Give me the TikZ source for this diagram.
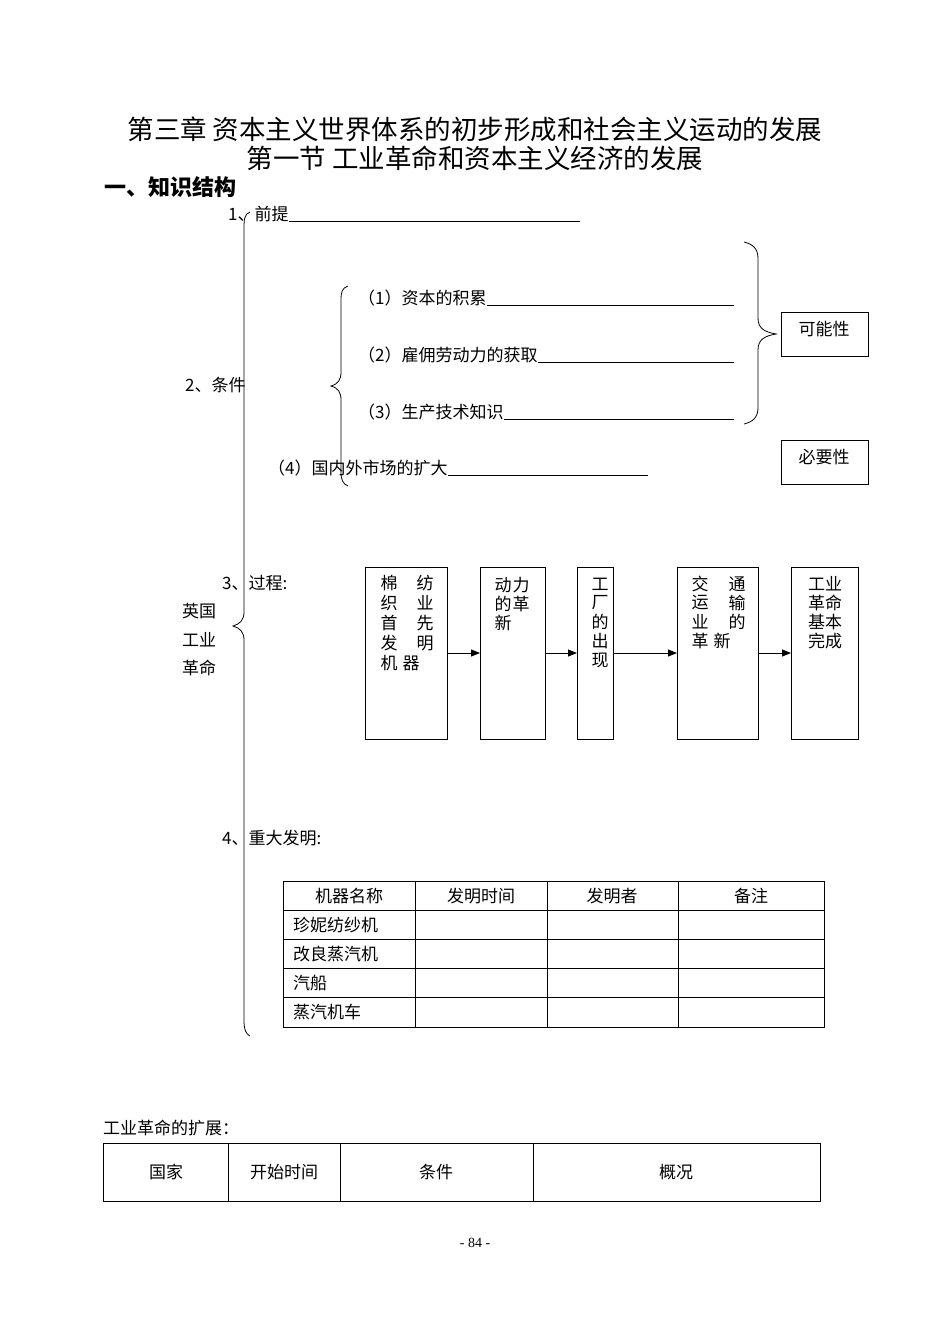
\documentclass[tikz,border=0pt]{standalone}
\usepackage{fontspec}
\setmainfont{Liberation Serif}
\newfontfamily\cjk{Noto Sans CJK SC}
\usetikzlibrary{arrows.meta,decorations.pathreplacing}
\begin{document}
\begin{tikzpicture}[x=1pt,y=-1pt,
 txt/.style={inner sep=0pt,anchor=west,font=\cjk\fontsize{17}{17}\selectfont},
 ch/.style={inner sep=0pt,font=\cjk\fontsize{17}{17}\selectfont},
 box/.style={draw,line width=1pt,inner sep=0pt},
 arr/.style={-{Triangle[length=9pt,width=7pt]},line width=1pt},
 ul/.style={line width=0.6pt}]
\useasboundingbox[fill=white] (0,0) rectangle (950,1342);
\node[ch,font=\cjk\fontsize{26.5}{26}\selectfont] (t1) at (475,129) {第三章\ 资本主义世界体系的初步形成和社会主义运动的发展};
\node[ch,font=\cjk\fontsize{26.5}{26}\selectfont] (t2) at (475,158) {第一节 工业革命和资本主义经济的发展};
\node[txt,font=\cjk\bfseries\fontsize{22}{22}\selectfont] (h1) at (104,187) {一、知识结构};
% 1
\node[txt] (p1) at (228,214) {1、前提};
\draw[ul] (p1.east |- 0,221) -- (580,221);
% big brace
\draw[line width=0.8pt] (250,212) .. controls (244,214) and (244,220) .. (244,230) -- (244,612) .. controls (244,620) and (240,624) .. (233,626) .. controls (240,628) and (244,632) .. (244,640) -- (244,1020) .. controls (244,1030) and (246,1034) .. (250,1036);
% 2
\node[txt] (c2) at (185,385) {2、条件};
\draw[line width=0.8pt] (348,286) .. controls (342,288) and (341,292) .. (341,300) -- (341,372) .. controls (341,380) and (338,384) .. (331,386) .. controls (338,388) and (341,392) .. (341,400) -- (341,472) .. controls (341,480) and (343,484) .. (348,486);
\node[txt] (a1) at (358,298) {（1）资本的积累};
\draw[ul] (a1.east |- 0,305) -- (734,305);
\node[txt] (a2) at (358,355) {（2）雇佣劳动力的获取};
\draw[ul] (a2.east |- 0,362) -- (734,362);
\node[txt] (a3) at (358,412) {（3）生产技术知识};
\draw[ul] (a3.east |- 0,419) -- (734,419);
\node[txt] (a4) at (268,468) {（4）国内外市场的扩大};
\draw[ul] (a4.east |- 0,475) -- (648,475);
\draw[line width=0.8pt] (744,242) .. controls (752,244) and (758,248) .. (758,258) -- (758,318) .. controls (758,328) and (764,332) .. (776,334) .. controls (764,336) and (758,340) .. (758,350) -- (758,408) .. controls (758,418) and (752,422) .. (744,424);
\node[box,minimum width=87pt,minimum height=44pt,anchor=north west] (b1) at (781,312) {};
\node[ch] at (824,329) {可能性};
\node[box,minimum width=87pt,minimum height=44pt,anchor=north west] (b2) at (781,440) {};
\node[ch] at (824,457) {必要性};
% 3
\node[txt] (c3) at (222,583) {3、过程:};
\node[ch] at (199,611) {英国};
\node[ch] at (199,640) {工业};
\node[ch] at (199,668) {革命};
\node[box,minimum width=82pt,minimum height=172pt,anchor=north west] (p1b) at (365,567) {};
\node[box,minimum width=65pt,minimum height=172pt,anchor=north west] (p2b) at (480,567) {};
\node[box,minimum width=36pt,minimum height=172pt,anchor=north west] (p3b) at (577,567) {};
\node[box,minimum width=81pt,minimum height=172pt,anchor=north west] (p4b) at (677,567) {};
\node[box,minimum width=67pt,minimum height=172pt,anchor=north west] (p5b) at (791,567) {};
\draw[arr] (p1b.east |- 0,653) -- (p2b.west |- 0,653);
\draw[arr] (p2b.east |- 0,653) -- (p3b.west |- 0,653);
\draw[arr] (p3b.east |- 0,653) -- (p4b.west |- 0,653);
\draw[arr] (p4b.east |- 0,653) -- (p5b.west |- 0,653);
\foreach \c [count=\i] in {棉,织,首,发,机} \node[ch] at (389,563+\i*20) {\c};
\foreach \c [count=\i] in {纺,业,先,明} \node[ch] at (425,563+\i*20) {\c};
\node[ch] at (411,663) {器};
\node[ch] at (503,585) {动}; \node[ch] at (521,585) {力};
\node[ch] at (503,604) {的}; \node[ch] at (521,604) {革};
\node[ch] at (503,623) {新};
\foreach \c [count=\i] in {工,厂,的,出,现} \node[ch] at (600,565+\i*19) {\c};
\foreach \c [count=\i] in {交,运,业,革} \node[ch] at (700,565+\i*19) {\c};
\foreach \c [count=\i] in {通,输,的} \node[ch] at (737,565+\i*19) {\c};
\node[ch] at (722,641) {新};
\foreach \r [count=\i] in {工业,革命,基本,完成} \node[ch] at (825,565+\i*19) {\r};
% 4
\node[txt] (c4) at (222,838) {4、重大发明:};
\draw[line width=0.6pt] (283,881) rectangle (824,1027);
\foreach \y in {910,939,968,997} \draw[line width=0.6pt] (283,\y) -- (824,\y);
\foreach \x in {415,547,678} \draw[line width=0.6pt] (\x,881) -- (\x,1027);
\node[ch] at (349,896) {机器名称};
\node[ch] at (481,896) {发明时间};
\node[ch] at (612,896) {发明者};
\node[ch] at (751,896) {备注};
\node[txt] at (293,925) {珍妮纺纱机};
\node[txt] at (293,954) {改良蒸汽机};
\node[txt] at (293,983) {汽船};
\node[txt] at (293,1012) {蒸汽机车};
% expansion
\node[txt] (ex) at (103,1128) {工业革命的扩展：};
\draw[line width=0.6pt] (103,1143) rectangle (820,1201);
\foreach \x in {228,340,533} \draw[line width=0.6pt] (\x,1143) -- (\x,1201);
\node[ch] at (166,1172) {国家};
\node[ch] at (284,1172) {开始时间};
\node[ch] at (436,1172) {条件};
\node[ch] at (676,1172) {概况};
\node[inner sep=0pt,font=\fontsize{14}{14}\selectfont] at (475,1243) {- 84 -};
\end{tikzpicture}
\end{document}
